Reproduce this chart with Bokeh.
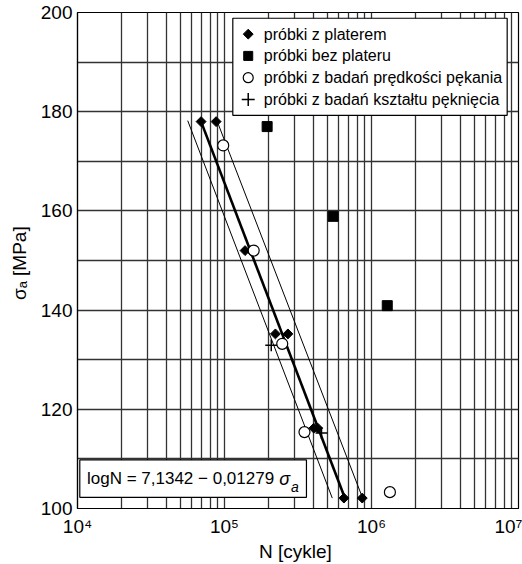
import math
from bokeh.plotting import figure
from bokeh.models import FixedTicker
from bokeh.core.properties import value
from bokeh.embed import file_html
from bokeh.resources import INLINE

# ---------------- data ----------------
diam_N = [69300, 87700, 138000, 151000, 222000, 270000, 405000, 431000, 649000, 865000]
diam_S = [178, 178, 152, 152, 135.2, 135.2, 116.2, 116.2, 102.1, 102.1]

sq_N = [195000, 548000, 1280000]
sq_S = [177, 158.9, 140.9]

circ_N = [98000, 158000, 247000, 350000, 1334000]
circ_S = [173.2, 152, 133.2, 115.4, 103.3]

cross_N = [208000, 457000]
cross_S = [132.9, 115.2]

fit_N = [69300, 665000]
fit_S = [178, 101.8]
lower_N = [56200, 541000]
lower_S = [178.2, 102.1]
upper_N = [88000, 865000]
upper_S = [178.5, 102.3]

legend_labels = ["próbki z platerem", "próbki bez plateru",
                 "próbki z badań prędkości pękania", "próbki z badań kształtu pęknięcia"]
x_ticks = [1e4, 1e5, 1e6, 1e7]
x_tick_labels = ["10⁴", "10⁵", "10⁶", "10⁷"]
y_ticks = [100, 120, 140, 160, 180, 200]
formula_main = "logN = 7,1342 − 0,01279"

# ---------------- style ----------------
FONT = "Liberation Sans"
GRID = "#333333"

p = figure(width=522, height=564, x_axis_type="log",
           x_range=(1e4, 1e7), y_range=(100, 200),
           output_backend="svg", toolbar_location=None,
           min_border_left=77, min_border_right=4,
           min_border_top=12, min_border_bottom=51)
p.background_fill_color = "white"
p.border_fill_color = "white"
p.outline_line_color = "black"
p.outline_line_width = 1.2

# grids
minor = []
for d in range(4, 7):
    for m in range(1, 10):
        minor.append(m * 10 ** d)
minor.append(1e7)
p.xgrid.ticker = FixedTicker(ticks=minor)
p.ygrid.ticker = FixedTicker(ticks=list(range(100, 201, 10)))
for g in (p.xgrid, p.ygrid):
    g.grid_line_color = GRID
    g.grid_line_width = 1.3
    g.grid_line_alpha = 1

# axes
p.xaxis.ticker = FixedTicker(ticks=x_ticks)
p.xaxis.major_label_overrides = {t: l for t, l in zip(x_ticks, x_tick_labels)}
p.yaxis.ticker = FixedTicker(ticks=y_ticks)
for ax in (p.xaxis, p.yaxis):
    ax.axis_line_color = "black"
    ax.axis_line_width = 1.2
    ax.major_tick_in = 0
    ax.major_tick_out = 0
    ax.minor_tick_in = 0
    ax.minor_tick_out = 0
    ax.major_label_text_font = FONT
    ax.major_label_text_font_size = "19px"
    ax.major_label_text_color = "black"
    ax.axis_label_text_font = FONT
    ax.axis_label_text_font_size = "19px"
    ax.axis_label_text_font_style = "normal"
    ax.axis_label_text_color = "black"
p.xaxis.major_label_standoff = 7
p.yaxis.major_label_standoff = 5
p.xaxis.axis_label = "N  [cykle]"
p.xaxis.axis_label_standoff = 1
p.yaxis.axis_label = "σₐ  [MPa]"
p.yaxis.axis_label_standoff = 8

# formula box (white, covers grid)
box_left, box_right, box_bottom, box_top = 10366, 361000, 102.26, 109.8
p.quad(left=[box_left], right=[box_right], bottom=[box_bottom], top=[box_top],
       fill_color="white", line_color="black", line_width=1.2)
p.text(x=[11600], y=[106.0], text=[formula_main], text_font=value(FONT),
       text_font_size="17px", text_baseline="middle", text_align="left", text_color="black")
p.text(x=[10 ** 5.372], y=[106.0], text=["σ"], text_font=value(FONT),
       text_font_size="18px", text_font_style="italic", text_baseline="middle",
       text_align="left", text_color="black")
p.text(x=[10 ** 5.452], y=[104.4], text=["a"], text_font=value(FONT),
       text_font_size="14px", text_font_style="italic", text_baseline="middle",
       text_align="left", text_color="black")

# lines
p.line(lower_N, lower_S, line_color="black", line_width=1)
p.line(upper_N, upper_S, line_color="black", line_width=1)
p.line(fit_N, fit_S, line_color="black", line_width=2.6)

# markers
p.scatter(diam_N, diam_S, marker="square", angle=math.pi / 4, size=7,
          fill_color="black", line_color="black")
p.scatter(sq_N, sq_S, marker="square", size=10, fill_color="black", line_color="black")
p.scatter(circ_N, circ_S, marker="circle", size=11, fill_color="white",
          line_color="black", line_width=1.2)
p.scatter(cross_N, cross_S, marker="cross", size=12, line_color="black", line_width=1.5)

# legend (drawn inside the frame)
leg_left, leg_right, leg_bottom, leg_top = 113900, 8375000, 179.26, 198.84
leg_rows = [195.64, 191.25, 186.86, 182.46]
leg_mx, leg_tx = 145000, 185000
p.quad(left=[leg_left], right=[leg_right], bottom=[leg_bottom], top=[leg_top],
       fill_color="white", line_color="black", line_width=1.2)
p.scatter([leg_mx], [leg_rows[0]], marker="square", angle=math.pi / 4, size=7,
          fill_color="black", line_color="black")
p.scatter([leg_mx], [leg_rows[1]], marker="square", size=9, fill_color="black", line_color="black")
p.scatter([leg_mx], [leg_rows[2]], marker="circle", size=10, fill_color="white",
          line_color="black", line_width=1.2)
p.scatter([leg_mx], [leg_rows[3]], marker="cross", size=13, line_color="black", line_width=1.5)
p.text(x=[leg_tx] * 4, y=leg_rows, text=legend_labels, text_font=value(FONT),
       text_font_size="16px", text_baseline="middle", text_align="left", text_color="black")

open("out.html", "w").write(file_html(p, INLINE))
